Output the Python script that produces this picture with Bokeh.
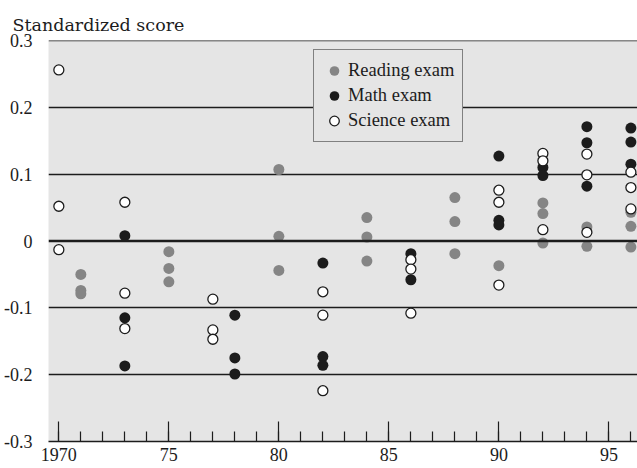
from bokeh.plotting import figure
from bokeh.models import FixedTicker, Range1d, Span, Legend, LegendItem
from bokeh.embed import file_html
from bokeh.resources import INLINE

# ---- data ----
reading_years = [1971, 1971, 1971, 1975, 1975, 1975, 1980, 1980, 1980,
                 1984, 1984, 1984, 1988, 1988, 1988, 1990,
                 1992, 1992, 1992, 1994, 1994, 1996, 1996, 1996]
reading_scores = [-0.050, -0.074, -0.079, -0.016, -0.041, -0.061, 0.107, 0.007, -0.044,
                  0.035, 0.006, -0.030, 0.065, 0.029, -0.019, -0.037,
                  0.057, 0.041, -0.003, 0.021, -0.008, 0.043, 0.022, -0.009]

math_years = [1973, 1973, 1973, 1978, 1978, 1978, 1982, 1982, 1982,
              1986, 1986, 1990, 1990, 1990, 1992, 1992,
              1994, 1994, 1994, 1996, 1996, 1996]
math_scores = [0.008, -0.115, -0.187, -0.111, -0.175, -0.199, -0.033, -0.173, -0.186,
               -0.019, -0.058, 0.127, 0.031, 0.024, 0.110, 0.098,
               0.171, 0.147, 0.082, 0.169, 0.148, 0.115]

science_years = [1970, 1970, 1970, 1973, 1973, 1973, 1977, 1977, 1977,
                 1982, 1982, 1982, 1986, 1986, 1986, 1990, 1990, 1990,
                 1992, 1992, 1992, 1994, 1994, 1994, 1996, 1996, 1996]
science_scores = [0.256, 0.052, -0.013, 0.058, -0.078, -0.131, -0.087, -0.133, -0.147,
                  -0.076, -0.111, -0.224, -0.028, -0.042, -0.108, 0.076, 0.058, -0.066,
                  0.131, 0.120, 0.017, 0.130, 0.099, 0.013, 0.103, 0.080, 0.048]

x_ticks = [1970, 1975, 1980, 1985, 1990, 1995]
x_labels = ["1970", "75", "80", "85", "90", "95"]
x_minor = list(range(1970, 1997))
y_ticks = [-0.3, -0.2, -0.1, 0.0, 0.1, 0.2, 0.3]
y_labels = ["-0.3", "-0.2", "-0.1", "0", "0.1", "0.2", "0.3"]

SERIF = "Liberation Serif"
INK = "#1c1c1c"
BG = "#e5e5e5"

p = figure(width=637, height=468, output_backend="svg", toolbar_location=None,
           x_range=Range1d(1969.53, 1996.30), y_range=Range1d(-0.3, 0.3),
           min_border_left=48, min_border_right=0, min_border_top=40, min_border_bottom=27)

p.background_fill_color = BG
p.border_fill_color = "white"
p.outline_line_color = None

p.title.text = "Standardized score"
p.title.text_font = "DejaVu Serif"
p.title.text_font_size = "17.5px"
p.title.text_font_style = "normal"
p.title.text_color = INK
p.title.align = "left"
p.title.offset = -36
p.title.standoff = 12

p.xgrid.visible = False
p.ygrid.ticker = FixedTicker(ticks=[-0.2, -0.1, 0.1, 0.2])
p.ygrid.grid_line_color = INK
p.ygrid.grid_line_width = 1.3

p.add_layout(Span(location=0.0, dimension="width", line_color=INK, line_width=2.5))
p.add_layout(Span(location=0.3, dimension="width", line_color=INK, line_width=1.5))

xa = p.xaxis[0]
xa.ticker = FixedTicker(ticks=x_ticks, minor_ticks=x_minor)
xa.major_label_overrides = dict(zip(x_ticks, x_labels))
xa.axis_line_color = INK
xa.axis_line_width = 1.6
xa.major_tick_in = 20
xa.major_tick_out = 0
xa.minor_tick_in = 10
xa.minor_tick_out = 0
xa.major_tick_line_color = INK
xa.minor_tick_line_color = INK
xa.major_tick_line_width = 1.2
xa.minor_tick_line_width = 1.2
xa.major_label_text_font = SERIF
xa.major_label_text_font_size = "18px"
xa.major_label_text_color = INK
xa.major_label_standoff = 6

ya = p.yaxis[0]
ya.ticker = FixedTicker(ticks=y_ticks)
ya.major_label_overrides = dict(zip(y_ticks, y_labels))
ya.axis_line_color = None
ya.major_tick_line_color = None
ya.minor_tick_line_color = None
ya.major_label_text_font = SERIF
ya.major_label_text_font_size = "18px"
ya.major_label_text_color = INK
ya.major_label_standoff = 10

r_read = p.scatter(reading_years, reading_scores, size=11, fill_color="#858585", line_color=None)
r_math = p.scatter(math_years, math_scores, size=11, fill_color=INK, line_color=None)
r_sci = p.scatter(science_years, science_scores, size=10, fill_color="white",
                  line_color=INK, line_width=1.3)

legend = Legend(items=[LegendItem(label="Reading exam", renderers=[r_read]),
                       LegendItem(label="Math exam", renderers=[r_math]),
                       LegendItem(label="Science exam", renderers=[r_sci])],
                location=(265, 299))
legend.border_line_color = INK
legend.border_line_width = 1
legend.background_fill_color = BG
legend.background_fill_alpha = 1
legend.padding = 8
legend.spacing = 0
legend.margin = 0
legend.label_height = 25
legend.glyph_height = 25
legend.glyph_width = 24
legend.label_standoff = 2
legend.label_text_font = SERIF
legend.label_text_font_size = "18.5px"
legend.label_text_color = INK
p.add_layout(legend, "center")

open("out.html", "w").write(file_html(p, INLINE))
